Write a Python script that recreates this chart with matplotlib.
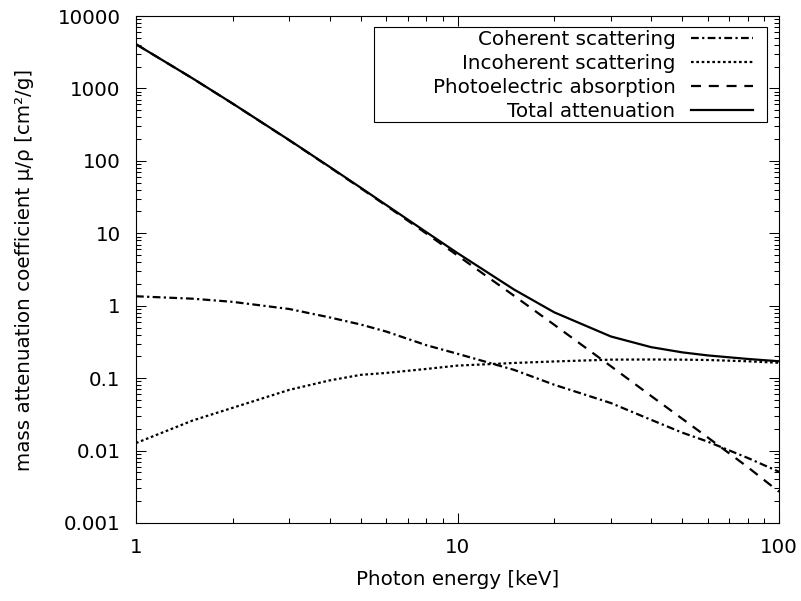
import numpy as np
import matplotlib
matplotlib.use("Agg")
import matplotlib.pyplot as plt
from matplotlib.patches import Rectangle
from matplotlib.ticker import LogLocator, FuncFormatter, NullFormatter

# photon energies [keV]
energy = [1, 1.5, 2, 3, 4, 5, 6, 8, 10, 15, 20, 30, 40, 50, 60, 80, 100]

# mass attenuation coefficients [cm^2/g]
coherent = [1.35, 1.25, 1.13, 0.90, 0.69, 0.55, 0.44, 0.285, 0.217,
            0.13, 0.081, 0.0453, 0.0266, 0.0177, 0.0133, 0.0079, 0.0051]
incoherent = [0.0127, 0.026, 0.039, 0.069, 0.093, 0.111, 0.118, 0.134, 0.149,
              0.162, 0.170, 0.180, 0.181, 0.180, 0.178, 0.171, 0.163]
photoelectric = [4076, 1374, 615, 191.7, 81.9, 41.9, 24.1, 9.92, 4.94,
                 1.37, 0.545, 0.146, 0.0568, 0.0275, 0.0152, 0.0059, 0.0027]
total = [4078, 1376, 617, 192.9, 82.8, 42.6, 24.6, 10.37, 5.33,
         1.67, 0.81, 0.376, 0.268, 0.227, 0.206, 0.184, 0.171]

fs = 14.3
plt.rcParams["font.family"] = ["DejaVu Sans"]
plt.rcParams["font.size"] = fs

fig = plt.figure(figsize=(8.01, 6.01), dpi=100)
ax = fig.add_axes([136 / 801, 78 / 601, 643 / 801, 507 / 601])

lw = 1.6
ax.plot(energy, coherent, color="black", lw=lw,
        linestyle=(0, (3.5, 1.5, 1, 1.5)), label="Coherent scattering")
ax.plot(energy, incoherent, color="black", lw=lw,
        linestyle=(0, (1.2, 1.2)), label="Incoherent scattering")
ax.plot(energy, photoelectric, color="black", lw=lw,
        linestyle=(0, (4.5, 3.5)), label="Photoelectric absorption")
ax.plot(energy, total, color="black", lw=lw,
        linestyle="-", label="Total attenuation")

ax.set_xscale("log")
ax.set_yscale("log")
ax.set_xlim(1, 100)
ax.set_ylim(0.001, 10000)

fmt = FuncFormatter(lambda v, pos: "%g" % v)
ax.xaxis.set_major_locator(LogLocator(base=10, numticks=10))
ax.yaxis.set_major_locator(LogLocator(base=10, numticks=20))
ax.xaxis.set_minor_locator(LogLocator(base=10, subs=np.arange(2, 10), numticks=20))
ax.yaxis.set_minor_locator(LogLocator(base=10, subs=np.arange(2, 10), numticks=20))
ax.xaxis.set_major_formatter(fmt)
ax.yaxis.set_major_formatter(fmt)
ax.xaxis.set_minor_formatter(NullFormatter())
ax.yaxis.set_minor_formatter(NullFormatter())

ax.tick_params(which="both", direction="in", top=True, right=True,
               width=0.75, colors="black")
ax.tick_params(which="major", length=7.5, pad=11, labelsize=fs)
ax.tick_params(which="minor", length=3.5)
for s in ax.spines.values():
    s.set_linewidth(0.8)

ax.set_xlabel("Photon energy [keV]", fontsize=fs, labelpad=9)
ax.set_ylabel("mass attenuation coefficient μ/ρ [cm²/g]", fontsize=fs, labelpad=17)

# gnuplot-like key: right aligned text, samples on the right, wide box
leg = ax.legend(loc="upper right", bbox_to_anchor=(753 / 801, (601 - 30) / 601),
                bbox_transform=fig.transFigure, markerfirst=False,
                frameon=False, fontsize=fs, handlelength=3.1,
                handletextpad=0.8, labelspacing=0.25, borderpad=0,
                borderaxespad=0)
fig.patches.append(Rectangle((374 / 801, (601 - 122) / 601), 393 / 801, 95 / 601,
                             transform=fig.transFigure, fill=False,
                             edgecolor="black", linewidth=0.8, zorder=5))

fig.savefig("out.png", dpi=100)
